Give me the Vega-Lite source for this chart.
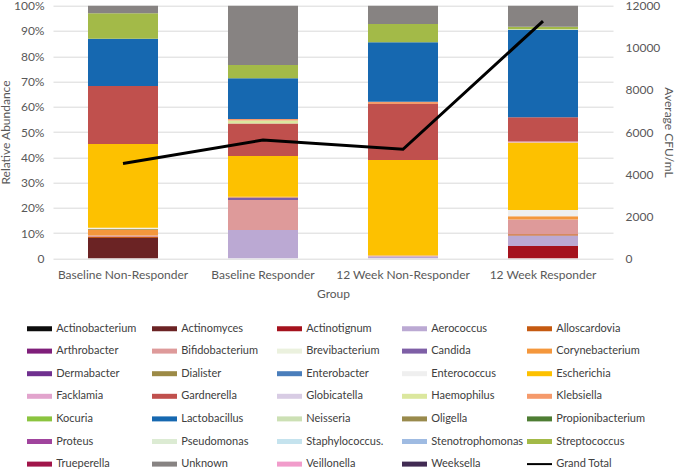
{
  "$schema": "https://vega.github.io/schema/vega-lite/v6.json",
  "width": 560,
  "height": 252.6,
  "autosize": "none",
  "padding": {"left": 53, "top": 5.7, "right": 64, "bottom": 210.7},
  "background": "white",
  "config": {
    "view": {"stroke": null},
    "font": "Lato",
    "axis": {"labelFont": "Lato", "titleFont": "Lato", "labelColor": "#595959", "titleColor": "#595959", "labelFontSize": 12, "titleFontSize": 12, "titleFontWeight": "normal", "ticks": false, "domain": false}
  },
  "layer": [
    {
      "data": {
        "values": [
          {"Group": "Baseline Non-Responder", "Taxon": "Actinomyces", "Abundance": 8.0},
          {"Group": "Baseline Non-Responder", "Taxon": "Alloscardovia", "Abundance": 0.4},
          {"Group": "Baseline Non-Responder", "Taxon": "Bifidobacterium", "Abundance": 0.6},
          {"Group": "Baseline Non-Responder", "Taxon": "Corynebacterium", "Abundance": 2.3},
          {"Group": "Baseline Non-Responder", "Taxon": "Dialister", "Abundance": 0.3},
          {"Group": "Baseline Non-Responder", "Taxon": "Enterococcus", "Abundance": 0.5},
          {"Group": "Baseline Non-Responder", "Taxon": "Escherichia", "Abundance": 33.1},
          {"Group": "Baseline Non-Responder", "Taxon": "Gardnerella", "Abundance": 23.0},
          {"Group": "Baseline Non-Responder", "Taxon": "Lactobacillus", "Abundance": 18.7},
          {"Group": "Baseline Non-Responder", "Taxon": "Streptococcus", "Abundance": 10.1},
          {"Group": "Baseline Non-Responder", "Taxon": "Unknown", "Abundance": 3.0},
          {"Group": "Baseline Responder", "Taxon": "Aerococcus", "Abundance": 11.2},
          {"Group": "Baseline Responder", "Taxon": "Bifidobacterium", "Abundance": 11.9},
          {"Group": "Baseline Responder", "Taxon": "Candida", "Abundance": 1.0},
          {"Group": "Baseline Responder", "Taxon": "Corynebacterium", "Abundance": 0.3},
          {"Group": "Baseline Responder", "Taxon": "Escherichia", "Abundance": 16.1},
          {"Group": "Baseline Responder", "Taxon": "Gardnerella", "Abundance": 12.9},
          {"Group": "Baseline Responder", "Taxon": "Haemophilus", "Abundance": 1.2},
          {"Group": "Baseline Responder", "Taxon": "Klebsiella", "Abundance": 0.5},
          {"Group": "Baseline Responder", "Taxon": "Lactobacillus", "Abundance": 16.2},
          {"Group": "Baseline Responder", "Taxon": "Streptococcus", "Abundance": 5.2},
          {"Group": "Baseline Responder", "Taxon": "Unknown", "Abundance": 23.5},
          {"Group": "12 Week Non-Responder", "Taxon": "Aerococcus", "Abundance": 0.7},
          {"Group": "12 Week Non-Responder", "Taxon": "Bifidobacterium", "Abundance": 0.4},
          {"Group": "12 Week Non-Responder", "Taxon": "Escherichia", "Abundance": 37.8},
          {"Group": "12 Week Non-Responder", "Taxon": "Gardnerella", "Abundance": 22.2},
          {"Group": "12 Week Non-Responder", "Taxon": "Klebsiella", "Abundance": 0.9},
          {"Group": "12 Week Non-Responder", "Taxon": "Lactobacillus", "Abundance": 23.5},
          {"Group": "12 Week Non-Responder", "Taxon": "Streptococcus", "Abundance": 7.3},
          {"Group": "12 Week Non-Responder", "Taxon": "Unknown", "Abundance": 7.2},
          {"Group": "12 Week Responder", "Taxon": "Actinotignum", "Abundance": 4.9},
          {"Group": "12 Week Responder", "Taxon": "Aerococcus", "Abundance": 4.1},
          {"Group": "12 Week Responder", "Taxon": "Alloscardovia", "Abundance": 0.5},
          {"Group": "12 Week Responder", "Taxon": "Bifidobacterium", "Abundance": 5.9},
          {"Group": "12 Week Responder", "Taxon": "Corynebacterium", "Abundance": 1.2},
          {"Group": "12 Week Responder", "Taxon": "Enterococcus", "Abundance": 2.5},
          {"Group": "12 Week Responder", "Taxon": "Escherichia", "Abundance": 26.7},
          {"Group": "12 Week Responder", "Taxon": "Facklamia", "Abundance": 0.4},
          {"Group": "12 Week Responder", "Taxon": "Gardnerella", "Abundance": 9.6},
          {"Group": "12 Week Responder", "Taxon": "Lactobacillus", "Abundance": 34.6},
          {"Group": "12 Week Responder", "Taxon": "Neisseria", "Abundance": 0.4},
          {"Group": "12 Week Responder", "Taxon": "Streptococcus", "Abundance": 0.9},
          {"Group": "12 Week Responder", "Taxon": "Unknown", "Abundance": 8.3}
        ]
      },
      "mark": {"type": "bar"},
      "encoding": {
        "x": {
          "field": "Group", "type": "nominal",
          "sort": ["Baseline Non-Responder", "Baseline Responder", "12 Week Non-Responder", "12 Week Responder"],
          "scale": {"paddingInner": 0.5, "paddingOuter": 0.25},
          "axis": {"labelAngle": 0, "labelPadding": 11, "title": "Group", "titlePadding": 8}
        },
        "y": {
          "field": "Abundance", "type": "quantitative", "aggregate": "sum", "stack": "zero",
          "scale": {"domain": [0, 100], "nice": false},
          "axis": {
            "title": "Relative Abundance", "values": [0, 10, 20, 30, 40, 50, 60, 70, 80, 90, 100],
            "labelExpr": "datum.value === 0 ? '0' : datum.value + '%'",
            "grid": true, "gridColor": "#d9d9d9", "labelPadding": 9, "titlePadding": 1
          }
        },
        "order": {"field": "Taxon", "sort": "ascending"},
        "color": {
          "field": "Taxon", "type": "nominal",
          "scale": {
            "domain": ["Actinobacterium", "Actinomyces", "Actinotignum", "Aerococcus", "Alloscardovia", "Arthrobacter", "Bifidobacterium", "Brevibacterium", "Candida", "Corynebacterium", "Dermabacter", "Dialister", "Enterobacter", "Enterococcus", "Escherichia", "Facklamia", "Gardnerella", "Globicatella", "Haemophilus", "Klebsiella", "Kocuria", "Lactobacillus", "Neisseria", "Oligella", "Propionibacterium", "Proteus", "Pseudomonas", "Staphylococcus.", "Stenotrophomonas", "Streptococcus", "Trueperella", "Unknown", "Veillonella", "Weeksella", "Grand Total"],
            "range": ["#0d0d0d", "#6b2324", "#a5121d", "#bba9d3", "#c55a11", "#7f1f7a", "#de9a9a", "#ebf1de", "#7e5fa6", "#f4973c", "#70308f", "#9c8a46", "#4a7ebb", "#efefef", "#fdc100", "#e2a4cd", "#c0504d", "#d8cce4", "#dbe79e", "#f59a6b", "#8bc43f", "#1668b0", "#cce0b4", "#998a4c", "#4e7d33", "#a0449d", "#dcebd3", "#c5e3ee", "#9fbbe2", "#a3ba48", "#a1154a", "#878382", "#f19ccb", "#412b53", "#000000"]
          },
          "legend": {
            "orient": "none", "legendX": -20, "legendY": 316.3,
            "columns": 5, "direction": "horizontal", "title": null, "symbolLimit": 50,
            "symbolType": "M-2,-0.4H2V0.4H-2Z", "symbolSize": 156.25, "symbolStrokeWidth": 0,
            "labelFont": "Lato", "labelFontSize": 11, "labelColor": "#404040", "labelOffset": 10.25,
            "rowPadding": 10.6, "columnPadding": 3, "gridAlign": "all", "padding": 0, "labelLimit": 200,
            "encode": {"symbols": {"update": {"shape": [{"test": "datum.value === 'Grand Total'", "value": "M-2,-0.16H2V0.16H-2Z"}, {"value": "M-2,-0.4H2V0.4H-2Z"}]}}}
          }
        }
      }
    },
    {
      "data": {
        "values": [
          {"Group": "Baseline Non-Responder", "Total": 4500},
          {"Group": "Baseline Responder", "Total": 5620},
          {"Group": "12 Week Non-Responder", "Total": 5180},
          {"Group": "12 Week Responder", "Total": 11270}
        ]
      },
      "mark": {"type": "line", "color": "#000000", "strokeWidth": 3},
      "encoding": {
        "x": {"field": "Group", "type": "nominal", "sort": ["Baseline Non-Responder", "Baseline Responder", "12 Week Non-Responder", "12 Week Responder"]},
        "y": {
          "field": "Total", "type": "quantitative",
          "scale": {"domain": [0, 12000], "nice": false},
          "axis": {"orient": "right", "title": "Average CFU/mL", "values": [0, 2000, 4000, 6000, 8000, 10000, 12000], "grid": false, "labelPadding": 12, "titlePadding": 2, "format": "d"}
        }
      }
    }
  ],
  "resolve": {"scale": {"y": "independent", "color": "shared"}}
}
